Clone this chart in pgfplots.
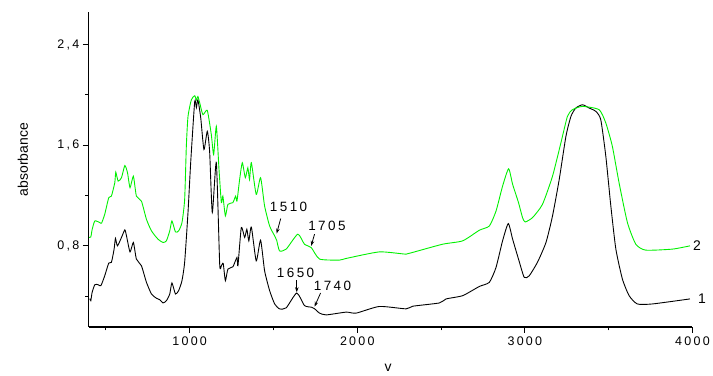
\documentclass[border=0pt]{standalone}
\usepackage{pgfplots}
\pgfplotsset{compat=1.18}
\usetikzlibrary{arrows.meta}
\usepackage{fontspec}
\setmainfont{Liberation Sans}
\newfontfamily\spaced[LetterSpace=18]{Liberation Sans}
\definecolor{lime}{RGB}{0,240,0}
\begin{document}
\begin{tikzpicture}
\path (-89bp,-46.3bp) rectangle (624bp,327.7bp);
\begin{axis}[
  at={(0,0)}, anchor=south west,
  scale only axis, width=605bp, height=315.7bp,
  xmin=398, xmax=4000, ymin=0.155, ymax=2.66,
  axis x line*=bottom, axis y line*=left,
  axis line style={line width=1.1bp, -},
  tick align=outside,
  xtick={1000,2000,3000,4000}, xticklabels={1000,2000,3000,4000},
  minor xtick={500,1500,2500,3500},
  ytick={0.8,1.6,2.4}, yticklabels={{0,8},{1,6},{2,4}},
  minor ytick={0.4,1.2,2.0},
  major tick length=6bp, minor tick length=3.5bp,
  every tick/.style={black, line width=1bp},
  tick label style={font=\spaced\fontsize{12.5bp}{14bp}\selectfont},
  xlabel={v}, ylabel={absorbance},
  label style={font=\fontsize{14bp}{16bp}\selectfont},
  xlabel style={at={(axis description cs:0.496,-0.131)}, anchor=center},
  ylabel style={at={(axis description cs:-0.109,0.531)}, anchor=center},
  clip=false,
]
\addplot[black, line width=0.9bp, smooth, tension=0.35] coordinates {
(404,0.38) (410,0.364) (418,0.431) (434,0.491) (454,0.491) (470,0.483) (493,0.562) (517,0.663) (533,0.669) (549,0.774) (557,0.859) (569,0.80) (593,0.867) (613,0.927) (623,0.879) (644,0.752) (664,0.827) (682,0.695) (712,0.642) (742,0.510) (772,0.417) (802,0.383) (821,0.372) (841,0.346) (861,0.364) (881,0.417) (894,0.505) (915,0.417) (934,0.444) (954,0.523) (970,0.671) (990,1.067) (1006,1.463) (1030,1.948) (1040,1.90) (1049,1.962) (1066,1.817) (1085,1.566) (1105,1.711) (1119,1.55) (1135,1.065) (1159,1.461) (1179,0.655) (1189,0.642) (1200,0.66) (1213,0.523) (1228,0.615) (1258,0.634) (1282,0.708) (1288,0.642) (1308,0.946) (1328,0.867) (1341,0.932) (1353,0.840) (1368,0.950) (1397,0.681) (1423,0.845) (1447,0.602) (1477,0.444) (1507,0.338) (1536,0.299) (1576,0.307) (1639,0.425) (1685,0.325) (1727,0.312) (1745,0.300) (1775,0.265) (1815,0.251) (1934,0.273) (1993,0.265) (2132,0.318) (2291,0.299) (2331,0.320) (2490,0.346) (2530,0.378) (2629,0.404) (2728,0.477) (2788,0.510) (2828,0.629) (2867,0.840) (2901,0.977) (2927,0.853) (2962,0.695) (2996,0.550) (3026,0.562) (3075,0.669) (3126,0.827) (3165,1.038) (3205,1.328) (3245,1.671) (3275,1.830) (3304,1.896) (3344,1.922) (3384,1.896) (3424,1.869) (3453,1.803) (3483,1.513) (3513,1.117) (3543,0.774) (3582,0.536) (3622,0.404) (3671,0.338) (3761,0.338) (3985,0.378)
};
\addplot[lime, line width=0.9bp, smooth, tension=0.35] coordinates {
(400,0.867) (410,0.87) (418,0.93) (434,0.998) (464,0.985) (474,0.980) (493,1.051) (517,1.183) (533,1.196) (553,1.302) (559,1.386) (573,1.315) (593,1.342) (613,1.439) (629,1.381) (644,1.263) (664,1.354) (682,1.196) (712,1.156) (742,1.011) (772,0.919) (811,0.853) (841,0.827) (861,0.840) (881,0.919) (894,0.998) (915,0.911) (934,0.919) (954,0.985) (970,1.170) (980,1.592) (990,1.830) (1010,1.962) (1030,1.994) (1040,1.96) (1049,1.988) (1060,1.936) (1079,1.843) (1105,1.877) (1129,1.685) (1143,1.526) (1159,1.750) (1175,1.407) (1189,1.144) (1198,1.196) (1213,1.038) (1228,1.130) (1258,1.144) (1274,1.196) (1282,1.156) (1298,1.328) (1314,1.461) (1332,1.342) (1347,1.421) (1357,1.328) (1368,1.461) (1397,1.209) (1423,1.342) (1447,1.117) (1477,0.958) (1507,0.879) (1519,0.845) (1536,0.760) (1576,0.774) (1645,0.893) (1685,0.813) (1725,0.787) (1775,0.695) (1894,0.687) (1934,0.700) (2132,0.752) (2291,0.734) (2331,0.748) (2509,0.813) (2629,0.840) (2728,0.924) (2788,0.958) (2828,1.077) (2867,1.275) (2903,1.413) (2927,1.289) (2962,1.144) (2986,1.025) (3002,0.990) (3046,1.025) (3105,1.130) (3165,1.354) (3215,1.619) (3254,1.830) (3284,1.883) (3344,1.909) (3443,1.883) (3483,1.777) (3522,1.592) (3562,1.302) (3612,0.985) (3662,0.813) (3721,0.766) (3880,0.774) (3985,0.800)
};
\tikzset{lbl/.style={font=\spaced\fontsize{13.5bp}{15bp}\selectfont, inner sep=0pt}}
\node[lbl] at (axis cs:1590,1.113) {1510};
\draw[-{Stealth[length=5bp,width=3.5bp]}, line width=0.8bp] (axis cs:1543,1.017) -- (axis cs:1519,0.898);
\node[lbl] at (axis cs:1819,0.956) {1705};
\draw[-{Stealth[length=5bp,width=3.5bp]}, line width=0.8bp] (axis cs:1745,0.893) -- (axis cs:1725,0.80);
\node[lbl] at (axis cs:1632,0.584) {1650};
\draw[-{Stealth[length=5bp,width=3.5bp]}, line width=0.8bp] (axis cs:1639,0.528) -- (axis cs:1639,0.431);
\node[lbl] at (axis cs:1852,0.481) {1740};
\draw[-{Stealth[length=5bp,width=3.5bp]}, line width=0.8bp] (axis cs:1781,0.425) -- (axis cs:1745,0.317);
\node[font=\fontsize{14bp}{16bp}\selectfont] at (axis cs:4027,0.8) {2};
\node[font=\fontsize{14bp}{16bp}\selectfont] at (axis cs:4057,0.378) {1};
\end{axis}
\end{tikzpicture}
\end{document}
